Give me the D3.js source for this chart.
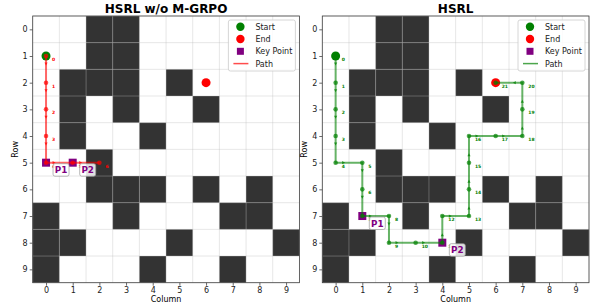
<!DOCTYPE html>
<html>
<head>
<meta charset="utf-8">
<script src="https://cdn.jsdelivr.net/npm/d3@7"></script>
<style>
  body { margin: 0; background: #fff; }
  text { font-family: "DejaVu Sans", sans-serif; }
</style>
</head>
<body>
<div id="chart"></div>
<script>
/* grid data (row, col) */
var ticks = [0, 1, 2, 3, 4, 5, 6, 7, 8, 9];
var obstacles = [
  [0, 2], [0, 3],
  [1, 2], [1, 3],
  [2, 1], [2, 2], [2, 3], [2, 5],
  [3, 1], [3, 3], [3, 6],
  [4, 1], [4, 4],
  [5, 2],
  [6, 2], [6, 3], [6, 4], [6, 6], [6, 8],
  [7, 0], [7, 3], [7, 7], [7, 8],
  [8, 0], [8, 1], [8, 5], [8, 9],
  [9, 0], [9, 4], [9, 7]
];
var startPt = [1, 0];
var endPt = [2, 6];

var pathBase = [[1, 0], [2, 0], [3, 0], [4, 0], [5, 0], [5, 1], [5, 2]];
var keyBase = [[5, 0], [5, 1]];

var pathFull = [[1, 0], [2, 0], [3, 0], [4, 0], [5, 0], [5, 1], [6, 1], [7, 1],
  [7, 2], [8, 2], [8, 3], [8, 4], [7, 4], [7, 5], [6, 5], [5, 5], [4, 5],
  [4, 6], [4, 7], [3, 7], [2, 7], [2, 6]];
var keyFull = [[7, 1], [8, 4]];

var panels = [
  { title: "HSRL w/o M-GRPO", left: 32.7, path: pathBase, keys: keyBase, color: "red" },
  { title: "HSRL", left: 322.3, path: pathFull, keys: keyFull, color: "green" }
];

var width = 595, height = 305;
var size = 266.7, plotTop = 16;

var svg = d3.select("#chart").append("svg")
  .attr("width", width)
  .attr("height", height);

panels.forEach(function(p) {
  var x = d3.scaleLinear().domain([-0.5, 9.5]).range([p.left, p.left + size]);
  var y = d3.scaleLinear().domain([-0.5, 9.5]).range([plotTop, plotTop + size]);
  var cw = x(1) - x(0);
  var g = svg.append("g");

  g.append("rect")
    .attr("x", x(-0.5)).attr("y", y(-0.5))
    .attr("width", size).attr("height", size)
    .attr("fill", "#fff");

  // obstacles
  g.selectAll("rect.obs")
    .data(obstacles)
    .enter()
    .append("rect")
    .attr("class", "obs")
    .attr("x", function(d) { return x(d[1] - 0.5); })
    .attr("y", function(d) { return y(d[0] - 0.5); })
    .attr("width", cw)
    .attr("height", cw)
    .attr("fill", "#333");

  // grid lines at cell edges
  var edges = d3.range(-0.5, 10, 1);
  g.selectAll("line.gx")
    .data(edges)
    .enter()
    .append("line")
    .attr("class", "gx")
    .attr("x1", function(d) { return x(d); })
    .attr("x2", function(d) { return x(d); })
    .attr("y1", y(-0.5)).attr("y2", y(9.5))
    .attr("stroke", "#bbb").attr("stroke-opacity", 0.35).attr("stroke-width", 1);
  g.selectAll("line.gy")
    .data(edges)
    .enter()
    .append("line")
    .attr("class", "gy")
    .attr("y1", function(d) { return y(d); })
    .attr("y2", function(d) { return y(d); })
    .attr("x1", x(-0.5)).attr("x2", x(9.5))
    .attr("stroke", "#bbb").attr("stroke-opacity", 0.35).attr("stroke-width", 1);

  // axes
  var xAxis = d3.axisBottom(x).tickValues(ticks).tickSize(3).tickPadding(2);
  var yAxis = d3.axisLeft(y).tickValues(ticks).tickSize(3).tickPadding(2);
  var gx = g.append("g").attr("transform", "translate(0," + (plotTop + size) + ")").call(xAxis);
  var gy = g.append("g").attr("transform", "translate(" + p.left + ",0)").call(yAxis);
  [gx, gy].forEach(function(a) {
    a.select(".domain").remove();
    a.selectAll("text").attr("font-size", 8).attr("fill", "#222")
      .style("font-family", "DejaVu Sans, sans-serif");
    a.selectAll("line").attr("stroke", "#444").attr("stroke-width", 0.8);
  });

  g.append("rect")
    .attr("x", x(-0.5)).attr("y", y(-0.5))
    .attr("width", size).attr("height", size)
    .attr("fill", "none").attr("stroke", "#444").attr("stroke-width", 0.8);

  // titles and labels
  g.append("text")
    .attr("x", p.left + size / 2).attr("y", 13)
    .attr("text-anchor", "middle")
    .attr("font-size", 12).attr("font-weight", "bold")
    .text(p.title);
  g.append("text")
    .attr("x", p.left + size / 2).attr("y", 302)
    .attr("text-anchor", "middle")
    .attr("font-size", 8)
    .text("Column");
  g.append("text")
    .attr("transform", "translate(" + (p.left - 15) + "," + (plotTop + size / 2) + ") rotate(-90)")
    .attr("text-anchor", "middle")
    .attr("font-size", 8)
    .text("Row");

  // start / end / key points
  g.append("circle")
    .attr("cx", x(startPt[1])).attr("cy", y(startPt[0]))
    .attr("r", 4.5).attr("fill", "green");
  g.append("circle")
    .attr("cx", x(endPt[1])).attr("cy", y(endPt[0]))
    .attr("r", 4.5).attr("fill", "red");
  g.selectAll("rect.key")
    .data(p.keys)
    .enter()
    .append("rect")
    .attr("class", "key")
    .attr("x", function(d) { return x(d[1]) - 4; })
    .attr("y", function(d) { return y(d[0]) - 4; })
    .attr("width", 8).attr("height", 8)
    .attr("fill", "purple");

  // path
  var line = d3.line()
    .x(function(d) { return x(d[1]); })
    .y(function(d) { return y(d[0]); });
  g.append("path")
    .datum(p.path)
    .attr("d", line)
    .attr("fill", "none")
    .attr("stroke", p.color)
    .attr("stroke-opacity", 0.6)
    .attr("stroke-width", 2);

  var segs = d3.pairs(p.path);
  g.selectAll("path.arrow")
    .data(segs)
    .enter()
    .append("path")
    .attr("class", "arrow")
    .attr("d", "M1.5,0L-1.5,-1.6L-1.5,1.6Z")
    .attr("transform", function(d) {
      var x0 = x(d[0][1]), y0 = y(d[0][0]), x1 = x(d[1][1]), y1 = y(d[1][0]);
      var ang = Math.atan2(y1 - y0, x1 - x0) * 180 / Math.PI;
      return "translate(" + (x0 + 0.3 * (x1 - x0)) + "," + (y0 + 0.3 * (y1 - y0)) + ") rotate(" + ang + ")";
    })
    .attr("fill", p.color)
    .attr("fill-opacity", 0.75);

  g.selectAll("circle.step")
    .data(p.path)
    .enter()
    .append("circle")
    .attr("class", "step")
    .attr("cx", function(d) { return x(d[1]); })
    .attr("cy", function(d) { return y(d[0]); })
    .attr("r", 2.3)
    .attr("fill", p.color)
    .attr("fill-opacity", 0.7);

  g.selectAll("text.step")
    .data(p.path)
    .enter()
    .append("text")
    .attr("class", "step")
    .attr("x", function(d) { return x(d[1]) + 6; })
    .attr("y", function(d) { return y(d[0]) + 5; })
    .attr("font-size", 4.5)
    .attr("font-weight", "bold")
    .attr("fill", p.color)
    .text(function(d, i) { return i; });

  // key point tags
  p.keys.forEach(function(d, i) {
    var kx = x(d[1]) + 7, ky = y(d[0]) + 1;
    g.append("rect")
      .attr("x", kx).attr("y", ky)
      .attr("width", 16).attr("height", 12.5)
      .attr("rx", 2)
      .attr("fill", "#fff").attr("fill-opacity", 0.85)
      .attr("stroke", "#999").attr("stroke-width", 0.7);
    g.append("text")
      .attr("x", kx + 8).attr("y", ky + 9.6)
      .attr("text-anchor", "middle")
      .attr("font-size", 8.8).attr("font-weight", "bold")
      .attr("fill", "purple")
      .text("P" + (i + 1));
  });

  // legend
  var lx = p.left + size - 71, ly = 20;
  var lg = g.append("g").attr("transform", "translate(" + lx + "," + ly + ")");
  lg.append("rect")
    .attr("width", 67).attr("height", 51).attr("rx", 2)
    .attr("fill", "#fff").attr("fill-opacity", 0.85)
    .attr("stroke", "#ccc").attr("stroke-width", 0.8);
  var items = ["Start", "End", "Key Point", "Path"];
  items.forEach(function(name, i) {
    var cy = 6.7 + i * 12.3;
    if (name === "Start" || name === "End") {
      lg.append("circle").attr("cx", 12).attr("cy", cy).attr("r", 4.2)
        .attr("fill", name === "Start" ? "green" : "red");
    } else if (name === "Key Point") {
      lg.append("rect").attr("x", 8.5).attr("y", cy - 3.5).attr("width", 7).attr("height", 7)
        .attr("fill", "purple");
    } else {
      lg.append("line").attr("x1", 5).attr("x2", 20).attr("y1", cy).attr("y2", cy)
        .attr("stroke", p.color).attr("stroke-opacity", 0.7).attr("stroke-width", 1.5);
    }
    lg.append("text").attr("x", 27).attr("y", cy + 3)
      .attr("font-size", 8).attr("fill", "#222")
      .text(name);
  });
});
</script>
</body>
</html>
